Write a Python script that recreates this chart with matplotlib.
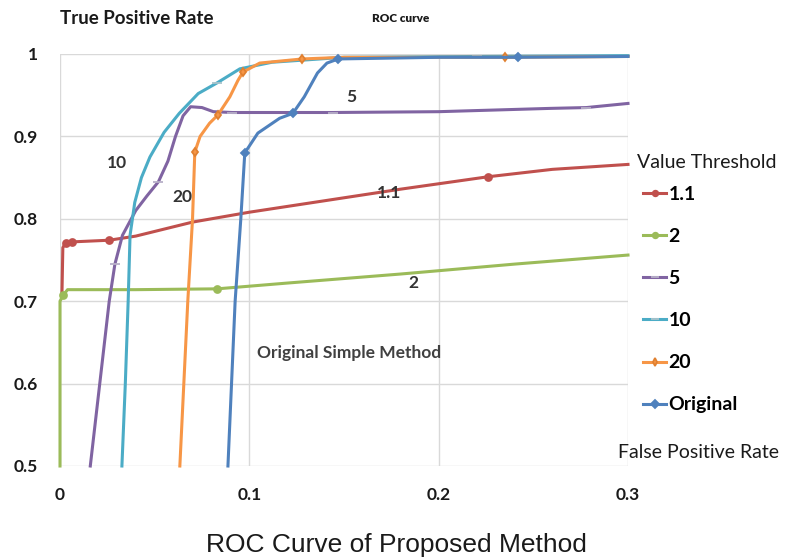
import matplotlib
matplotlib.use("Agg")
import matplotlib.pyplot as plt

# ---- data ----
fpr_11 = [0.001, 0.0015, 0.003, 0.0065, 0.026, 0.040, 0.070, 0.100, 0.140, 0.180, 0.226, 0.260, 0.300]
tpr_11 = [0.705, 0.765, 0.771, 0.772, 0.774, 0.779, 0.796, 0.808, 0.822, 0.836, 0.851, 0.860, 0.866]
mk_11 = [2, 3, 4, 10]

fpr_2 = [0.000, 0.000, 0.0016, 0.004, 0.040, 0.083, 0.120, 0.180, 0.240, 0.300]
tpr_2 = [0.500, 0.700, 0.707, 0.714, 0.714, 0.715, 0.722, 0.733, 0.745, 0.756]
mk_2 = [2, 5]

fpr_5 = [0.016, 0.021, 0.026, 0.029, 0.033, 0.040, 0.046, 0.052, 0.057, 0.061, 0.065,
         0.069, 0.075, 0.081, 0.091, 0.144, 0.200, 0.259, 0.278, 0.300]
tpr_5 = [0.500, 0.600, 0.700, 0.745, 0.780, 0.810, 0.828, 0.845, 0.870, 0.900, 0.925,
         0.936, 0.935, 0.930, 0.929, 0.929, 0.930, 0.934, 0.935, 0.940]
mk_5 = [3, 7, 14, 15, 18]

fpr_10 = [0.0327, 0.0345, 0.036, 0.037, 0.0395, 0.043, 0.0475, 0.055, 0.063, 0.073,
          0.083, 0.095, 0.112, 0.150, 0.220, 0.300]
tpr_10 = [0.500, 0.600, 0.700, 0.780, 0.820, 0.850, 0.875, 0.905, 0.928, 0.952,
          0.965, 0.982, 0.990, 0.996, 0.997, 0.998]
mk_10 = [10, 12, 14]

fpr_20 = [0.0633, 0.0675, 0.070, 0.0712, 0.074, 0.079, 0.0834, 0.0897, 0.094, 0.0966,
          0.1055, 0.128, 0.150, 0.235, 0.300]
tpr_20 = [0.500, 0.700, 0.800, 0.881, 0.900, 0.916, 0.926, 0.948, 0.968, 0.978,
          0.989, 0.994, 0.996, 0.996, 0.997]
mk_20 = [3, 6, 9, 11, 13]

fpr_orig = [0.0887, 0.0925, 0.0955, 0.0976, 0.1045, 0.116, 0.123, 0.129, 0.136, 0.141,
            0.147, 0.200, 0.242, 0.300]
tpr_orig = [0.500, 0.700, 0.800, 0.880, 0.904, 0.922, 0.928, 0.948, 0.977, 0.989,
            0.994, 0.996, 0.996, 0.997]
mk_orig = [3, 6, 10, 12]

series_names = ["1.1", "2", "5", "10", "20", "Original"]
x_ticks = [0, 0.1, 0.2, 0.3]
x_tick_labels = ["0", "0.1", "0.2", "0.3"]
y_ticks = [0.5, 0.6, 0.7, 0.8, 0.9, 1.0]
y_tick_labels = ["0.5", "0.6", "0.7", "0.8", "0.9", "1"]

# ---- figure ----
W, H = 796, 558
fig = plt.figure(figsize=(W / 100, H / 100), dpi=100)
fig.patch.set_facecolor("white")

ax = fig.add_axes([60 / W, 1 - 466 / H, (628 - 60) / W, (466 - 54) / H])
ax.set_xlim(0, 0.3)
ax.set_ylim(0.5, 1.0)
for s in ax.spines.values():
    s.set_visible(False)
ax.set_xticks(x_ticks)
ax.set_xticklabels(x_tick_labels)
ax.set_yticks(y_ticks)
ax.set_yticklabels(y_tick_labels)
ax.tick_params(length=0, labelsize=12.5)
ax.tick_params(axis="y", pad=16)
ax.tick_params(axis="x", pad=15)
for lab in ax.get_xticklabels() + ax.get_yticklabels():
    lab.set_fontweight("bold")
    lab.set_fontfamily("Lato")
    lab.set_color("#1a1a1a")
ax.grid(True, color="#d9d9d9", linewidth=1.0)
ax.set_axisbelow(True)

styles = [
    dict(x=fpr_11, y=tpr_11, mk=mk_11, c="#C0504D", m="o", ms=5, mec="#C0504D"),
    dict(x=fpr_2, y=tpr_2, mk=mk_2, c="#9BBB59", m="o", ms=5, mec="#9BBB59"),
    dict(x=fpr_5, y=tpr_5, mk=mk_5, c="#8064A2", m="_", ms=7, mec="#b8b0c8"),
    dict(x=fpr_10, y=tpr_10, mk=mk_10, c="#4BACC6", m="_", ms=7, mec="#a9c4cc"),
    dict(x=fpr_20, y=tpr_20, mk=mk_20, c="#F79646", m="d", ms=4.5, mec="#E08030"),
    dict(x=fpr_orig, y=tpr_orig, mk=mk_orig, c="#4F81BD", m="D", ms=4.5, mec="#4F81BD"),
]
handles = []
for st, name in zip(styles, series_names):
    ln, = ax.plot(st["x"], st["y"], color=st["c"], linewidth=2.2,
                  marker=st["m"], markersize=st["ms"], markevery=st["mk"],
                  markerfacecolor=st["c"], markeredgecolor=st["mec"],
                  markeredgewidth=1.3, clip_on=False, label=name,
                  solid_joinstyle="round")
    handles.append(ln)

# inline labels
lab_kw = dict(fontsize=12.5, fontweight="bold", color="#333333", family="Lato",
              ha="center", va="center")
def px(xp, yp):
    return (xp / W, 1 - yp / H)
fig.text(*px(117, 163), "10", **lab_kw)
fig.text(*px(182, 197), "20", **lab_kw)
fig.text(*px(351, 97), "5", **lab_kw)
fig.text(*px(389, 193), "1.1", **lab_kw)
fig.text(*px(413, 283), "2", **lab_kw)
fig.text(*px(349, 353), "Original Simple Method", fontsize=12.5, fontweight="bold",
         color="#404040", family="Lato", ha="center", va="center")

# titles
fig.text(*px(60, 18), "True Positive Rate", fontsize=13.5, fontweight="bold",
         family="Lato", color="#1a1a1a", ha="left", va="center")
fig.text(*px(401, 18), "ROC curve", fontsize=8.5, fontweight="heavy",
         family="Lato", color="#1a1a1a", ha="center", va="center")
fig.text(*px(698, 452), "False Positive Rate", fontsize=14,
         family="Lato", color="#1a1a1a", ha="center", va="center")
fig.text(*px(396, 545), "ROC Curve of Proposed Method", fontsize=19,
         family="Liberation Sans", color="#1a1a1a", ha="center", va="center")
fig.text(*px(637, 163), "Value Threshold", fontsize=14,
         family="Lato", color="#1a1a1a", ha="left", va="center")

leg = fig.legend(handles=handles, labels=series_names, loc="upper left",
                 bbox_to_anchor=(643 / W, 1 - 186 / H), frameon=False,
                 prop=dict(family="Lato", size=14, weight="bold"),
                 handlelength=1.2, handletextpad=0.1, labelspacing=1.29,
                 borderaxespad=0, borderpad=0.0, markerscale=0.8)

fig.savefig("out.png", dpi=100)
